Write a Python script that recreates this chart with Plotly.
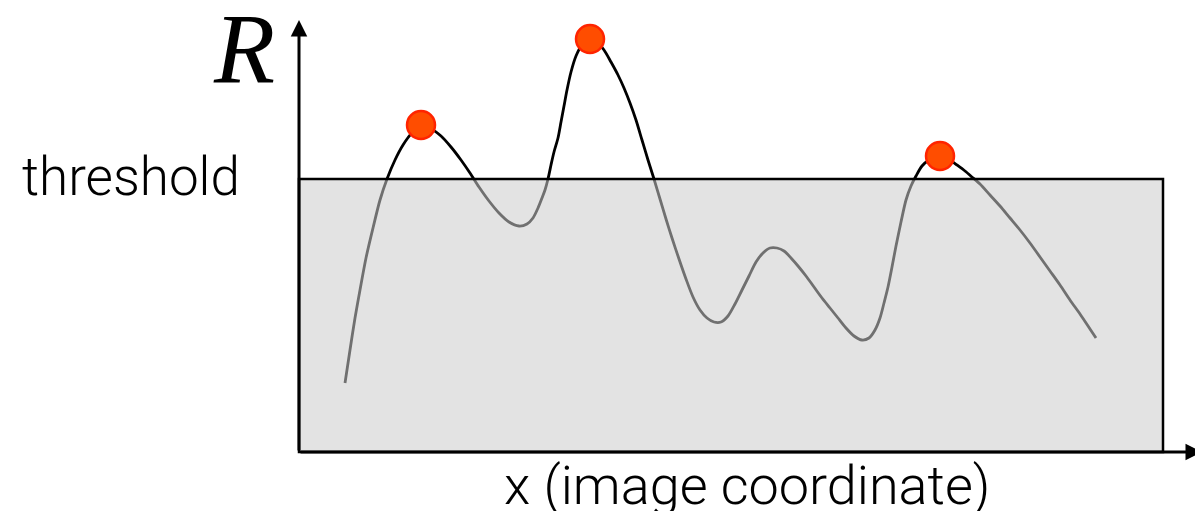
import plotly.graph_objects as go

# Response curve R(x); x measured from the origin of the axes, R upward
curve_x = [46, 51, 56, 61, 67, 74, 81, 88, 96, 104, 113, 122, 132, 142, 152, 162, 171, 180, 190, 200,
           210, 220, 228, 234, 239, 243, 246, 249, 252, 255, 259, 262, 265, 268, 272, 277, 283, 291,
           298, 305, 312, 319, 325, 331, 337, 343, 349, 355, 361, 367, 373, 380, 387, 394, 401, 408,
           415, 422, 429, 436, 443, 450, 457, 464, 471, 478, 485, 492, 499, 507, 515, 523, 531, 539,
           547, 555, 563, 570, 576, 581, 585, 589, 593, 597, 602, 607, 612, 617, 623, 630, 637, 644,
           651, 658, 666, 673, 681, 691, 701, 711, 721, 731, 741, 751, 761, 771, 781, 791, 797]
curve_R = [69, 102, 134, 162, 194, 224, 252, 273, 292, 307, 319, 324, 323, 316, 305, 292, 279, 265, 251, 239,
           230, 226, 228, 234, 244, 254, 262, 273, 287, 300, 314, 330, 346, 362, 380, 396, 407, 412,
           410, 402, 390, 377, 364, 349, 332, 312, 292, 273, 253, 233, 214, 193, 173, 155, 142, 134,
           130, 130, 136, 148, 162, 176, 190, 199, 204, 204, 201, 194, 186, 176, 165, 154, 144, 134,
           124, 116, 112, 114, 122, 134, 149, 165, 185, 206, 230, 252, 266, 276, 286, 292, 295, 295,
           292, 287, 281, 275, 268, 257, 246, 234, 222, 209, 195, 181, 167, 152, 138, 123, 114]

# Detected maxima above the threshold
peak_x = [122, 291, 641]
peak_R = [327, 413, 296]

threshold = 273
box_x = [0, 864]          # extent of the shaded (below-threshold) region
x_range = [-291, 912]
R_range = [-67, 444]
y_axis_top = 432
x_axis_end = 903

fig = go.Figure()
fig.add_trace(go.Scatter(x=curve_x, y=curve_R, mode="lines",
                         line=dict(color="black", width=2.8, shape="spline", smoothing=0.8),
                         hoverinfo="skip"))
fig.add_trace(go.Scatter(x=peak_x, y=peak_R, mode="markers",
                         marker=dict(size=28, color="#FF4D00", line=dict(color="#FF2400", width=2.5)),
                         hoverinfo="skip"))

# shaded region under threshold, drawn above the curve (semi-transparent)
fig.add_shape(type="rect", xref="x", yref="y", x0=box_x[0], x1=box_x[1], y0=0, y1=threshold,
              fillcolor="rgba(204,204,204,0.55)", line=dict(color="black", width=2.5), layer="above")

# axes with arrows
fig.add_annotation(x=0, y=y_axis_top, ax=0, ay=0, xref="x", yref="y", axref="x", ayref="y",
                   showarrow=True, arrowhead=2, arrowsize=1.1, arrowwidth=3, arrowcolor="black", text="")
fig.add_annotation(x=x_axis_end, y=0, ax=0, ay=0, xref="x", yref="y", axref="x", ayref="y",
                   showarrow=True, arrowhead=2, arrowsize=1.1, arrowwidth=3, arrowcolor="black", text="")

fig.add_annotation(x=-168, y=threshold + 2, xref="x", yref="y", text="threshold", showarrow=False,
                   font=dict(family="Roboto", size=53, color="black", weight=300))
fig.add_annotation(x=-55, y=404, xref="x", yref="y", text="<i>R</i>", showarrow=False,
                   font=dict(family="Liberation Serif", size=100, color="black"))
fig.add_annotation(x=448, y=-33, xref="x", yref="y", text="x (image coordinate)", showarrow=False,
                   font=dict(family="Roboto", size=54, color="black", weight=300))

fig.update_layout(width=1203, height=511, margin=dict(l=0, r=0, t=0, b=0),
                  plot_bgcolor="white", paper_bgcolor="white", showlegend=False,
                  xaxis=dict(range=x_range, visible=False, fixedrange=True),
                  yaxis=dict(range=R_range, visible=False, fixedrange=True))
fig.write_html("out.html")
